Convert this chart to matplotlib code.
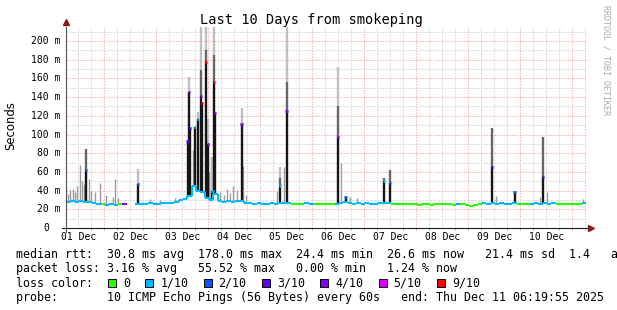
import numpy as np
import matplotlib
matplotlib.use("Agg")
import matplotlib.pyplot as plt
from matplotlib.collections import LineCollection
from matplotlib.patches import Rectangle

# --- Beállítások ---
W, H = 617, 310
MONO = "DejaVu Sans Mono"
plt.rcParams["font.family"] = MONO

# --- Adatok (óra a kezdettől: Dec 1 06:19:55) ---
# median rtt (ms), 2 órás lépés
base_ms = [
    28, 29, 28, 28.5, 27.5, 28, 27, 26, 25.5, 25,
    25.5, 25, 25.5, 26, np.nan, np.nan, 26, 25.5, 26, 26.5,
    25.5, 26, 27, 26.5, 27, 28, 29.5, 31, 34, 45,
    40, 38, 32, 30, 36, 29, 28, 28.5, 28, 28.5,
    29, 27, 26.5, 26, 26.5, 26, 26, 26.5, 26, 26.5,
    27, 26.5, 25.5, 25.5, 26, 26.5, 26, 25.5, 25.5, 25.5,
    25.5, 25.5, 26, 27, 28, 26.5, 26, 26.5, 26, 26.5,
    26, 26, 26.5, 27, 27, 26, 25.5, 26, 25.5, 25.5,
    25.5, 25, 25.5, 25.5, 25, 25.5, 26, 25.5, 25.5, 25,
    25.5, 25.5, 24.5, 24, 24.5, 25.5, 26.5, 26, 26.5, 26,
    26.5, 26, 26, 27, 26, 25.5, 25.5, 26, 26.5, 26,
    26.5, 26, 26.5, 25.5, 25.5, 25.5, 25.5, 25.5, 25.5, 26.5,
]
# veszteség (x/10) ugyanarra a 2 órás lépésre
base_loss = [
    1, 1, 1, 1, 1, 1, 1, 1, 0, 1,
    1, 1, 0, 4, 1, 1, 1, 1, 1, 1,
    1, 1, 1, 1, 1, 1, 1, 1, 1, 1,
    1, 1, 1, 1, 1, 1, 1, 1, 1, 1,
    1, 1, 1, 1, 1, 1, 1, 1, 1, 1,
    1, 1, 0, 0, 0, 1, 1, 0, 0, 0,
    0, 0, 1, 1, 1, 1, 1, 1, 1, 1,
    1, 1, 1, 1, 1, 0, 0, 0, 0, 0,
    0, 0, 0, 0, 0, 0, 0, 0, 0, 0,
    1, 0, 0, 0, 0, 0, 1, 1, 1, 1,
    1, 1, 1, 1, 0, 0, 0, 1, 1, 1,
    1, 1, 1, 0, 0, 0, 0, 0, 0, 1,
]

# kiugrások
spike_h = [9.2, 33.2, 56.1, 56.7, 57.2, 59.5, 60.9, 62.3, 62.9, 64.5, 65.5, 67.6,
           68.3, 68.9, 81.0, 98.8, 101.8, 125.5, 129.0, 146.8, 149.5, 196.6, 207.0, 220.2]
spike_med = [62, 47, 93, 146, 107, 108, 116.5, 141, 134, 178, 90, 40,
             156.5, 123, 111, 45, 125.5, 97.6, 33, 50.6, 48, 65.6, 38.5, 55]
spike_dark = [85, 47, 93, 146, 107, 108, 116.5, 169, 134, 190, 90, 40,
              185, 123, 111, 53, 156, 130, 33, 53, 62, 107, 38.5, 97.6]
spike_top = [85, 63, 93, 161, 107, 108, 124, 215, 134, 215, 117, 76,
             215, 123, 128, 65, 215, 172, 33, 53, 62, 107, 40, 97.6]
spike_loss = [2, 2, 3, 4, 3, 1, 1, 4, 9, 9, 4, 1, 9, 4, 4, 1, 4, 4, 2, 1, 2, 3, 2, 3]

# füst (smoke) szálak
hair_h = [0.9, 1.8, 3.0, 4.2, 5.3, 6.5, 7.4, 8.3, 10.4, 11.5, 13.4, 15.7, 18.5, 21.7, 22.6, 24.0,
          38.8, 43.4, 50.3, 58.4, 66.0, 66.9, 71.1, 72.9, 74.3, 75.7, 77.1, 78.7, 81.9, 83.1,
          97.4, 100.5, 126.9, 131.1, 134.3, 192.0, 198.5, 218.8, 222.0, 238.6]
hair_top = [36, 41, 42, 38, 45, 67, 50, 47, 52, 40, 38, 48, 35, 33, 52, 32,
            31, 30, 32, 83, 60, 76, 38, 35, 42, 37, 45, 41, 66, 35,
            40, 65, 69, 33, 32, 29, 34, 33, 38, 31]

loss_colors = {0: "#26ff00", 1: "#00b8ff", 2: "#0059ff", 3: "#5e00ff",
               4: "#7e00ff", 5: "#dd00ff", 9: "#ff0000"}
legend_loss = [0, 1, 2, 3, 4, 5, 9]
legend_text = ["0", "1/10", "2/10", "3/10", "4/10", "5/10", "9/10"]

day_labels = ["01 Dec", "02 Dec", "03 Dec", "04 Dec", "05 Dec",
              "06 Dec", "07 Dec", "08 Dec", "09 Dec", "10 Dec"]

# --- Grafikon ---
fig = plt.figure(figsize=(W / 100, H / 100), dpi=100)
fig.patch.set_facecolor("white")
ax = fig.add_axes([66 / W, (H - 228) / H, 520 / W, 201 / H])
ax.set_xlim(0, 240)
ax.set_ylim(0, 215)
for s in ax.spines.values():
    s.set_visible(False)

first_midnight = 17 + 40 / 60 + 5 / 3600
grid6 = [first_midnight - 12 + 6 * k for k in range(40)]
for k, g in enumerate(grid6):
    col = "#f4b0b0" if k % 4 == 2 else "#d4d4d4"
    ax.axvline(g, color=col, lw=0.72, ls=(0, (1.4, 1.4)), zorder=0.5)
for v in range(10, 215, 10):
    col = "#f4b0b0" if v % 20 == 0 else "#d4d4d4"
    ax.axhline(v, color=col, lw=0.72, ls=(0, (1.4, 1.4)), zorder=0.5)

base = np.array(base_ms, dtype=float)
t0 = np.arange(len(base)) * 2.0


def base_at(h):
    return base[min(int(h // 2), len(base) - 1)]


# füst
ax.vlines(hair_h, [base_at(h) for h in hair_h], hair_top, color="#9c9c9c", lw=1.0, zorder=2)
sb = [base_at(h) for h in spike_h]
ax.vlines(spike_h, spike_dark, spike_top, color="#c0c0c0", lw=1.7, zorder=2)
ax.vlines(spike_h, spike_med, spike_dark, color="#666666", lw=1.7, zorder=2.1)
ax.vlines(spike_h, sb, spike_med, color="#161616", lw=1.7, zorder=2.2)

# median vonal
segs, cols = [], []
for i in range(len(base)):
    if np.isnan(base[i]):
        continue
    segs.append([(t0[i], base[i]), (t0[i] + 2, base[i])])
    cols.append(loss_colors[base_loss[i]])
    if i + 1 < len(base) and not np.isnan(base[i + 1]):
        segs.append([(t0[i] + 2, base[i]), (t0[i] + 2, base[i + 1])])
        cols.append(loss_colors[base_loss[i + 1]])
ax.add_collection(LineCollection(segs, colors=cols, linewidths=1.5, capstyle="butt", zorder=3))

ax.hlines(spike_med, np.array(spike_h) - 0.55, np.array(spike_h) + 0.55,
          colors=[loss_colors[c] for c in spike_loss], lw=2.0, zorder=4)

# tengelyek
ax.plot([0, 0], [-4 / 201, 1.0], transform=ax.transAxes, color="#505050", lw=0.8, clip_on=False, zorder=5)
ax.plot([-4 / 520, 1.01], [0, 0], transform=ax.transAxes, color="#202020", lw=0.8, clip_on=False, zorder=5)
ax.plot([0], [1.027], transform=ax.transAxes, marker="^", ms=4.5, color="#8b1a1a", clip_on=False, zorder=6)
ax.plot([1.01], [0], transform=ax.transAxes, marker=">", ms=4.5, color="#8b1a1a", clip_on=False, zorder=6)

noons = [first_midnight - 12 + 24 * k for k in range(10)]
ax.set_xticks(noons, day_labels, fontsize=7, family=MONO)
ax.set_xticks(grid6, minor=True)
ax.tick_params(axis="x", which="major", length=0, pad=3)
ax.tick_params(axis="x", which="minor", length=1.5, width=0.7, color="#b0b0b0")
ax.set_yticks([])

ytr = ax.get_yaxis_transform()
for v in range(0, 201, 20):
    if v == 0:
        ax.text((48.8 - 66) / 520, v, "0", transform=ytr, ha="right", va="center", fontsize=7)
    else:
        ax.text((60.5 - 66) / 520, v, f"{v} m", transform=ytr, ha="right", va="center", fontsize=7)

# feliratok
fig.text(311 / W, 1 - 24 / H, "Last 10 Days from smokeping", ha="center", va="baseline", fontsize=9.8)
fig.text(11 / W, 1 - 126 / H, "Seconds", rotation=90, ha="center", va="center",
         fontsize=8.4, family="DejaVu Sans")
fig.text(606 / W, 1 - 60 / H, "RRDTOOL / TOBI OETIKER", rotation=270, ha="center", va="center",
         fontsize=6, color="#aaaaaa")

lines = [
    "median rtt:  30.8 ms avg  178.0 ms max  24.4 ms min  26.6 ms now   21.4 ms sd  1.4   am/s",
    "packet loss: 3.16 % avg   55.52 % max   0.00 % min   1.24 % now",
    "loss color:",
    "probe:       10 ICMP Echo Pings (56 Bytes) every 60s   end: Thu Dec 11 06:19:55 2025",
]
baselines = [258, 272.3, 286.6, 300.9]
for txt, b in zip(lines, baselines):
    fig.text(16 / W, 1 - b / H, txt, ha="left", va="baseline", fontsize=8.4)

bx = 108
for c, lab in zip(legend_loss, legend_text):
    fig.patches.append(Rectangle((bx / W, 1 - 286.6 / H), 8 / W, 8 / H, transform=fig.transFigure,
                                 facecolor=loss_colors[c], edgecolor="black", lw=0.7))
    fig.text((bx + 15) / W, 1 - 286.6 / H, lab, ha="left", va="baseline", fontsize=8.4)
    bx = bx + 15 + 7 * len(lab) + 15.3

# --- Mentés ---
fig.savefig("out.png", dpi=100)
plt.close(fig)
